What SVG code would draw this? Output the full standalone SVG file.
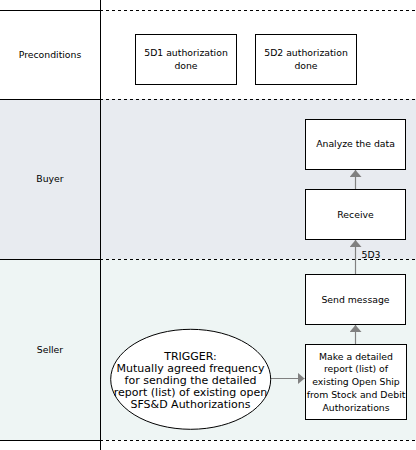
<svg xmlns="http://www.w3.org/2000/svg" width="416" height="450" viewBox="0 0 416 450">
<style>
text{font-family:"DejaVu Sans",Verdana,sans-serif;font-size:9.3px;fill:#000;text-anchor:middle}
.ell text{font-size:11px}
.box{fill:#fff;stroke:#000;stroke-width:1}
.solid{stroke:#000;stroke-width:1;fill:none}
.dash{stroke:#000;stroke-width:1;stroke-dasharray:3,3;fill:none}
.conn{stroke:#808080;stroke-width:1.2;fill:none}
</style>
<defs>
<marker id="ah" markerWidth="7" markerHeight="12" refX="7" refY="6" orient="auto" markerUnits="userSpaceOnUse" viewBox="0 0 7 12">
<path d="M0,0 L7,6 L0,12 Z" fill="#808080"/>
</marker>
</defs>
<g id="lanes">
<rect x="0" y="0" width="416" height="450" fill="#fff"/>
<rect x="0" y="99" width="416" height="160" fill="#e8ebf0"/>
<rect x="0" y="259" width="416" height="181" fill="#eef5f4"/>
<line class="solid" x1="0" y1="10.5" x2="100" y2="10.5"/>
<line class="dash" x1="100" y1="10.5" x2="416" y2="10.5"/>
<line class="solid" x1="0" y1="99.5" x2="100" y2="99.5"/>
<line class="dash" x1="100" y1="99.5" x2="416" y2="99.5"/>
<line class="solid" x1="0" y1="259.5" x2="100" y2="259.5"/>
<line class="dash" x1="100" y1="259.5" x2="416" y2="259.5"/>
<line class="solid" x1="0" y1="440.5" x2="100" y2="440.5"/>
<line class="dash" x1="100" y1="440.5" x2="416" y2="440.5"/>
<line class="solid" x1="100.5" y1="0" x2="100.5" y2="450"/>
<text x="50" y="57.5">Preconditions</text>
<text x="50" y="181.5">Buyer</text>
<text x="50" y="352.5">Seller</text>
</g>
<g id="connectors">
<line class="conn" x1="355.5" y1="189" x2="355.5" y2="170" marker-end="url(#ah)"/>
<line class="conn" x1="355.5" y1="274" x2="355.5" y2="240" marker-end="url(#ah)"/>
<text x="371" y="257.5">5D3</text>
<line class="conn" x1="355.5" y1="344" x2="355.5" y2="325" marker-end="url(#ah)"/>
<line class="conn" x1="271" y1="378.5" x2="304.5" y2="378.5" marker-end="url(#ah)"/>
</g>
<g id="n5d1">
<rect class="box" x="135.5" y="34.5" width="101" height="50"/>
<text x="186" y="56">5D1 authorization</text>
<text x="186" y="69">done</text>
</g>
<g id="n5d2">
<rect class="box" x="255.5" y="34.5" width="101" height="50"/>
<text x="306" y="56">5D2 authorization</text>
<text x="306" y="69">done</text>
</g>
<g id="analyze">
<rect class="box" x="305.5" y="119.5" width="100" height="50"/>
<text x="355.5" y="147">Analyze the data</text>
</g>
<g id="receive">
<rect class="box" x="305.5" y="189.5" width="100" height="50"/>
<text x="355.5" y="218">Receive</text>
</g>
<g id="send">
<rect class="box" x="305.5" y="274.5" width="100" height="50"/>
<text x="355.5" y="302.5">Send message</text>
</g>
<g id="make">
<rect class="box" x="305.5" y="344.5" width="101" height="75"/>
<text x="356" y="359.5">Make a detailed</text>
<text x="356" y="372">report (list) of</text>
<text x="356" y="385">existing Open Ship</text>
<text x="356" y="397.5">from Stock and Debit</text>
<text x="356" y="410.5">Authorizations</text>
</g>
<g id="trigger" class="ell">
<ellipse cx="190.7" cy="379.3" rx="80" ry="50" fill="#fff" stroke="#000" stroke-width="1"/>
<text x="190.5" y="360">TRIGGER:</text>
<text x="190.5" y="371.7">Mutually agreed frequency</text>
<text x="190.5" y="383.7">for sending the detailed</text>
<text x="190.5" y="396">report (list) of existing open</text>
<text x="190.5" y="407.7">SFS&amp;D Authorizations</text>
</g>
</svg>
